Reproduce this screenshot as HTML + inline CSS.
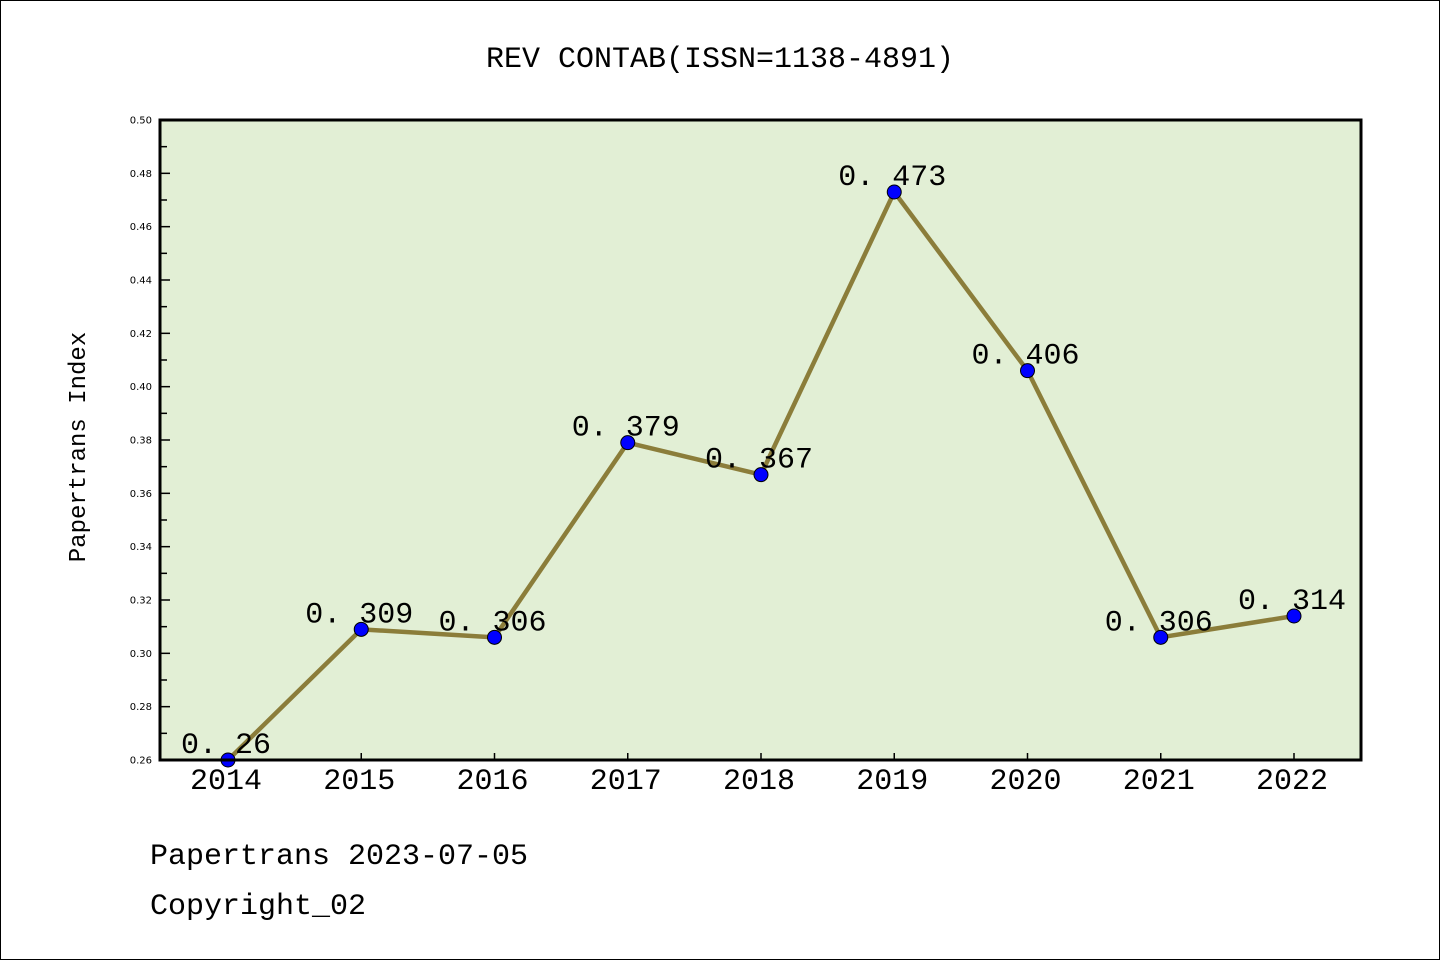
<!DOCTYPE html>
<html><head><meta charset="utf-8"><style>
body{margin:0;background:#fff;}
svg text{font-family:"Liberation Mono","WenQuanYi Zen Hei",monospace;}
svg text.tick{font-family:"DejaVu Sans","Liberation Sans",sans-serif;}
</style></head><body>
<svg id="chart" width="1440" height="960" xmlns="http://www.w3.org/2000/svg">
<rect x="0.5" y="0.5" width="1439" height="959" fill="#fff" stroke="#000"/>
<text x="720" y="67" font-size="30" text-anchor="middle">REV CONTAB(ISSN=1138-4891)</text>
<rect x="160" y="120" width="1201" height="640" fill="#e2efd5"/>
<g id="axes"></g>
<g id="series"></g>
<rect x="160" y="120" width="1201" height="640" fill="none" stroke="#000" stroke-width="3"/>
<text transform="translate(85,447) rotate(-90)" font-size="24" text-anchor="middle">Papertrans Index</text>
<text x="150" y="864" font-size="30">Papertrans 2023-07-05</text>
<text x="150" y="914" font-size="30">Copyright_02</text>
</svg>
<script>
const years=["2014","2015","2016","2017","2018","2019","2020","2021","2022"];
const values=[0.26,0.309,0.306,0.379,0.367,0.473,0.406,0.306,0.314];
const valueLabels=["0.26","0.309","0.306","0.379","0.367","0.473","0.406","0.306","0.314"];
const yTicks=[0.26,0.28,0.30,0.32,0.34,0.36,0.38,0.40,0.42,0.44,0.46,0.48,0.50];
const NS="http://www.w3.org/2000/svg";
const yMin=0.26,yMax=0.50,plotTop=120,plotBot=760;
const x0=228,xStep=133.25;
function xs(i){return x0+i*xStep;}
function ys(v){return plotBot-(v-yMin)/(yMax-yMin)*(plotBot-plotTop);}
function mk(tag,attrs,parent){const e=document.createElementNS(NS,tag);for(const k in attrs)e.setAttribute(k,attrs[k]);parent.appendChild(e);return e;}
const axes=document.getElementById('axes'),ser=document.getElementById('series');
yTicks.forEach((t,i)=>{
  const y=ys(t);
  const l=mk('line',{x1:160,x2:170,y1:y,y2:y,stroke:'#000','stroke-width':1.5},axes);
  
  
  const tx=mk('text',{x:152,y:y+3.5,'font-size':10,'text-anchor':'end','class':'tick'},axes);
  tx.textContent=t.toFixed(2);
  
  
  if(i<yTicks.length-1){
    const ym=ys(t+0.01);
    const m=mk('line',{x1:160,x2:167,y1:ym,y2:ym,stroke:'#000','stroke-width':1.5},axes);
    
    
  }
});
years.forEach((yr,i)=>{
  const x=xs(i);
  const l=mk('line',{x1:x,x2:x,y1:760,y2:753,stroke:'#000','stroke-width':1.5},axes);
  
  
  const t=mk('text',{x:x-2,y:789,'font-size':30,'text-anchor':'middle'},axes);
  t.textContent=yr;
  
  
});
const pts=values.map((v,i)=>xs(i)+','+ys(v)).join(' ');
const pl=mk('polyline',{points:pts,fill:'none',stroke:'#8b7d3a','stroke-width':4.5,'stroke-linejoin':'round'},ser);


values.forEach((v,i)=>{
  const c=mk('circle',{cx:xs(i),cy:ys(v),r:7,fill:'#0000ff',stroke:'#000','stroke-width':1},ser);
  
  
});
values.forEach((v,i)=>{
  const t=mk('text',{x:xs(i)-2,y:ys(v)-7,'font-size':30,'text-anchor':'middle'},ser);
  t.textContent=valueLabels[i].replace('.','. ');
  
  
});
</script>
</body></html>
